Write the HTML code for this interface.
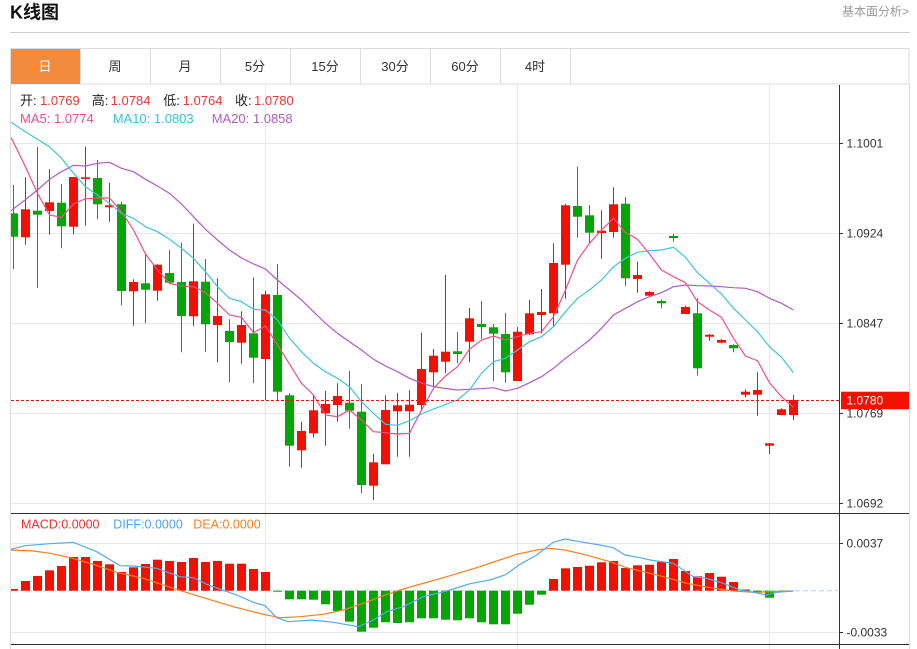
<!DOCTYPE html>
<html>
<head>
<meta charset="utf-8">
<style>
html,body{margin:0;padding:0;background:#fff;width:917px;height:649px;overflow:hidden;}
svg{position:absolute;left:0;top:0;}
text{font-family:"Liberation Sans","Noto Sans CJK SC",sans-serif;}
</style>
</head>
<body>
<svg width="917" height="649" viewBox="0 0 917 649" xmlns="http://www.w3.org/2000/svg">
<defs>
<clipPath id="cm"><rect x="11" y="85" width="828" height="428"/></clipPath>
<clipPath id="cd"><rect x="11" y="514" width="828" height="130"/></clipPath>
</defs>

<text x="10" y="12.5" font-size="18" font-weight="bold" fill="#111" dominant-baseline="central">K线图</text>
<text x="909" y="11.7" font-size="12" fill="#999" text-anchor="end" dominant-baseline="central">基本面分析&gt;</text>
<rect x="10" y="32" width="900" height="1" fill="#cfcfcf"/>

<rect x="10.5" y="48.5" width="898.5" height="35.5" fill="#fff" stroke="#dcdcdc"/>
<rect x="11" y="49" width="69.5" height="35" fill="#f28b3d"/>
<g stroke="#dcdcdc">
<line x1="80.5" y1="49" x2="80.5" y2="84"/>
<line x1="150.5" y1="49" x2="150.5" y2="84"/>
<line x1="220.5" y1="49" x2="220.5" y2="84"/>
<line x1="290.5" y1="49" x2="290.5" y2="84"/>
<line x1="360.5" y1="49" x2="360.5" y2="84"/>
<line x1="430.5" y1="49" x2="430.5" y2="84"/>
<line x1="500.5" y1="49" x2="500.5" y2="84"/>
<line x1="570.5" y1="49" x2="570.5" y2="84"/>
</g>
<g font-size="13" fill="#333" text-anchor="middle" dominant-baseline="central">
<text x="45" y="66.7" fill="#fff">日</text>
<text x="115" y="66.7">周</text>
<text x="185" y="66.7">月</text>
<text x="255" y="66.7">5分</text>
<text x="325" y="66.7">15分</text>
<text x="395" y="66.7">30分</text>
<text x="465" y="66.7">60分</text>
<text x="535" y="66.7">4时</text>
</g>

<line x1="10.5" y1="84" x2="10.5" y2="649" stroke="#dcdcdc"/>
<line x1="909.5" y1="84" x2="909.5" y2="649" stroke="#dcdcdc"/>

<g stroke="#e3e9ef" stroke-width="1">
<line x1="265.5" y1="85" x2="265.5" y2="649"/>
<line x1="517.5" y1="85" x2="517.5" y2="649"/>
<line x1="769.5" y1="85" x2="769.5" y2="649"/>
<line x1="11" y1="143.5" x2="839" y2="143.5"/>
<line x1="11" y1="233.5" x2="839" y2="233.5"/>
<line x1="11" y1="323.5" x2="839" y2="323.5"/>
<line x1="11" y1="413.5" x2="839" y2="413.5"/>
<line x1="11" y1="503.5" x2="839" y2="503.5"/>
<line x1="11" y1="543.5" x2="839" y2="543.5"/>
<line x1="11" y1="632.5" x2="839" y2="632.5"/>
</g>

<g font-size="13" dominant-baseline="central">
<text x="20" y="100.7" fill="#222">开:</text>
<text x="40" y="100.7" fill="#f03535">1.0769</text>
<text x="91.7" y="100.7" fill="#222">高:</text>
<text x="110.7" y="100.7" fill="#f03535">1.0784</text>
<text x="163.3" y="100.7" fill="#222">低:</text>
<text x="182.7" y="100.7" fill="#f03535">1.0764</text>
<text x="235" y="100.7" fill="#222">收:</text>
<text x="254" y="100.7" fill="#f03535">1.0780</text>
<text x="20" y="118.7" fill="#ee4f82">MA5: 1.0774</text>
<text x="112.7" y="118.7" fill="#33c3d8">MA10: 1.0803</text>
<text x="211.7" y="118.7" fill="#b05cc5">MA20: 1.0858</text>
</g>

<g clip-path="url(#cm)">
<path fill="none" stroke="#f21100" stroke-width="1" d="M25.5 177.3V244.7M49.5 169.3V234.7M73.5 177V234.3M85.5 146.7V225.7M109.5 182.7V222M133.5 279.3V325.7M157.5 264.3V300.7M193.5 223.7V326M217.5 278.3V362.3M241.5 311.3V363.7M265.5 290.7V400M301.5 421.7V467.7M313.5 395V437.3M325.5 391V445.7M337.5 383.3V421.7M373.5 454V500M385.5 395.3V464.3M397.5 392.7V456.7M409.5 390.3V456.7M421.5 332.7V410M433.5 349V386.7M445.5 275V373.3M469.5 308V362.3M517.5 327.3V381M529.5 300V335M541.5 289V333.3M553.5 243.3V326.7M565.5 203.7V298.7M601.5 210.3V258.7M613.5 187.3V237.7M637.5 261.7V292.7M649.5 291V296.7M685.5 305.7V314M709.5 334V340.7M721.5 339.3V343.3M745.5 389.3V397.3M757.5 372.3V415.7M769.5 442.7V454M781.5 408.3V415.3M793.5 395V420"/>
<path fill="none" stroke="#04a504" stroke-width="1" d="M13.5 185V269.3M37.5 146.7V287.7M61.5 184V248.3M97.5 160V219.3M121.5 201.7V305.3M145.5 253.3V323.3M169.5 250V284.3M181.5 242.7V352.3M205.5 259V351.7M229.5 319.3V382.3M253.5 277.3V383.3M277.5 264V400M289.5 393.3V466.7M349.5 371V428.7M361.5 384V493.3M457.5 332V363.3M481.5 301V339M493.5 324V381M505.5 312.7V382.7M577.5 166.7V237.7M589.5 205V243.3M625.5 197V286M661.5 299.3V308.3M673.5 234V241.7M697.5 298.3V375.7M733.5 344.3V352.3"/>
<g fill="#f21100">
<rect x="21" y="209.3" width="9" height="28"/>
<rect x="45" y="202.3" width="9" height="8.7"/>
<rect x="69" y="177" width="9" height="49.7"/>
<rect x="81" y="177.3" width="9" height="1.6"/>
<rect x="105" y="205.3" width="9" height="2"/>
<rect x="129" y="282" width="9" height="9.3"/>
<rect x="153" y="264.7" width="9" height="26"/>
<rect x="189" y="281.3" width="9" height="35"/>
<rect x="213" y="316" width="9" height="9"/>
<rect x="237" y="325" width="9" height="17.7"/>
<rect x="261" y="294.3" width="9" height="64.7"/>
<rect x="297" y="431" width="9" height="19.3"/>
<rect x="309" y="410.3" width="9" height="23"/>
<rect x="321" y="404" width="9" height="9.3"/>
<rect x="333" y="396" width="9" height="9"/>
<rect x="369" y="462.3" width="9" height="23.4"/>
<rect x="381" y="410" width="9" height="54.3"/>
<rect x="393" y="405.3" width="9" height="6"/>
<rect x="405" y="404.7" width="9" height="6.6"/>
<rect x="417" y="369" width="9" height="36"/>
<rect x="429" y="355.7" width="9" height="16.6"/>
<rect x="441" y="351.7" width="9" height="10"/>
<rect x="465" y="318.3" width="9" height="23.4"/>
<rect x="513" y="331.7" width="9" height="49.3"/>
<rect x="525" y="313.3" width="9" height="21"/>
<rect x="537" y="312" width="9" height="3"/>
<rect x="549" y="263" width="9" height="50.3"/>
<rect x="561" y="205.3" width="9" height="59.4"/>
<rect x="597" y="230.7" width="9" height="2.3"/>
<rect x="609" y="204.3" width="9" height="27.7"/>
<rect x="633" y="275" width="9" height="4"/>
<rect x="645" y="292" width="9" height="3.7"/>
<rect x="681" y="307" width="9" height="7"/>
<rect x="705" y="334.7" width="9" height="2"/>
<rect x="717" y="340" width="9" height="2.7"/>
<rect x="741" y="391.7" width="9" height="3"/>
<rect x="753" y="390" width="9" height="4.7"/>
<rect x="765" y="443.3" width="9" height="2.4"/>
<rect x="777" y="409.3" width="9" height="5.7"/>
<rect x="789" y="400" width="9" height="15"/>
</g>
<g fill="#04a504">
<rect x="9" y="213.3" width="9" height="23.4"/>
<rect x="33" y="210.7" width="9" height="4"/>
<rect x="57" y="202.7" width="9" height="23.6"/>
<rect x="93" y="178" width="9" height="26.3"/>
<rect x="117" y="204.3" width="9" height="86.7"/>
<rect x="141" y="283.3" width="9" height="6.4"/>
<rect x="165" y="273" width="9" height="9.7"/>
<rect x="177" y="282" width="9" height="34"/>
<rect x="201" y="281.7" width="9" height="42.6"/>
<rect x="225" y="331" width="9" height="11"/>
<rect x="249" y="333.3" width="9" height="24.4"/>
<rect x="273" y="295" width="9" height="96.7"/>
<rect x="285" y="395.3" width="9" height="50.4"/>
<rect x="345" y="402.7" width="9" height="8"/>
<rect x="357" y="411.7" width="9" height="73.3"/>
<rect x="453" y="351.3" width="9" height="2.7"/>
<rect x="477" y="324" width="9" height="3"/>
<rect x="489" y="327.3" width="9" height="6.4"/>
<rect x="501" y="334" width="9" height="38.3"/>
<rect x="573" y="206" width="9" height="10.7"/>
<rect x="585" y="215.3" width="9" height="17.4"/>
<rect x="621" y="203.7" width="9" height="74.6"/>
<rect x="657" y="301" width="9" height="2.3"/>
<rect x="669" y="236" width="9" height="2"/>
<rect x="693" y="313.3" width="9" height="55"/>
<rect x="729" y="345" width="9" height="3.3"/>
</g>

<polyline fill="none" stroke="#b259c9" stroke-width="1.2" points="11,210.7 25,200 37.5,190 49.5,179.3 61.5,171.7 73.5,165.3 85.5,166 97.5,163.3 109.5,162.3 121.5,168.3 133.5,171.7 145.5,179.3 157.5,186 169.5,193.3 181.5,204 193.5,216.7 205.5,229.3 217.5,240 229.5,250 241.5,258 253.5,264 265.5,269 277.5,280 289.5,290 301.5,300 313.5,311.7 325.5,323.3 337.5,333.3 349.5,341.7 361.5,350 373.5,359.3 385.5,366 397.5,371.7 409.5,378.3 421.5,383 433.5,386.7 445.5,388.5 457.5,390 469.5,389.3 481.5,388.7 493.5,387.7 505.5,391 517.5,388.3 529.5,382.7 541.5,376.7 553.5,368.3 565.5,358.3 577.5,349.3 589.5,340 601.5,328.3 613.5,315 625.5,308.3 637.5,301.7 649.5,296.7 661.5,292.7 673.5,286.7 685.5,285 697.5,285.7 709.5,286 721.5,286.7 733.5,287.7 745.5,288.3 757.5,291.7 769.5,298.3 781.5,303.3 793.5,310"/>
<polyline fill="none" stroke="#3ec4dc" stroke-width="1.2" points="11,122 21,129 49.5,146.7 61.5,158.3 73.5,173.3 85.5,186.7 97.5,195 109.5,203.3 121.5,213.3 133.5,218.3 145.5,226.7 157.5,231.7 169.5,239.3 181.5,248.3 193.5,258.3 205.5,271.7 217.5,286.7 229.5,298.3 241.5,301.7 253.5,309.3 265.5,310 277.5,320 289.5,338.3 301.5,351.7 313.5,363.3 325.5,371.7 337.5,378.3 349.5,386.7 361.5,401.7 373.5,413.3 385.5,424.3 397.5,425.3 409.5,420.7 421.5,414 433.5,409 445.5,404.5 457.5,400 469.5,390 481.5,373.3 493.5,361.7 505.5,358.3 517.5,350 529.5,341.7 541.5,336.7 553.5,326.7 565.5,311.7 577.5,298.3 589.5,290 601.5,280 613.5,266.7 625.5,258.3 637.5,252.3 649.5,250.7 661.5,250 673.5,247.3 685.5,257.3 697.5,272.7 709.5,283.3 721.5,294 733.5,308.3 745.5,320 757.5,331.7 769.5,346.7 781.5,357.3 793.5,372.7"/>
<polyline fill="none" stroke="#ef4f85" stroke-width="1.2" points="11,137.3 25.5,166.7 37.5,193.3 49.5,215 61.5,217.3 73.5,204 85.5,198.7 97.5,198 109.5,198 121.5,211.7 133.5,230 145.5,254 157.5,270 169.5,283.3 181.5,286 193.5,286.7 205.5,292.5 217.5,303.3 229.5,315 241.5,317.3 253.5,332.7 265.5,326 277.5,345 289.5,364 301.5,383.3 313.5,395 325.5,415 337.5,416.7 349.5,410 361.5,420 373.5,431.7 385.5,432.7 397.5,434 409.5,433.3 421.5,410 433.5,388.3 445.5,376 457.5,366.7 469.5,349.3 481.5,340 493.5,336 505.5,340 517.5,336.7 529.5,333.3 541.5,331.7 553.5,316.7 565.5,290 577.5,260 589.5,243.3 601.5,230 613.5,218.3 625.5,232.7 637.5,239.3 649.5,254 661.5,270 673.5,276.7 685.5,282.7 697.5,301.7 709.5,310 721.5,317.3 733.5,338.3 745.5,356 757.5,360.7 769.5,382.7 781.5,396.7 793.5,407.3"/>
</g>

<line x1="11" y1="400.5" x2="839" y2="400.5" stroke="#f21100" stroke-width="1" stroke-dasharray="3,2"/>

<g clip-path="url(#cd)">
<line x1="11" y1="590.7" x2="838" y2="590.7" stroke="#a6d6f2" stroke-width="1" stroke-dasharray="5,3"/>
<g fill="#f21100">
<rect x="9" y="589" width="9" height="1.7"/>
<rect x="21" y="581" width="9" height="9.7"/>
<rect x="33" y="576" width="9" height="14.7"/>
<rect x="45" y="570.3" width="9" height="20.4"/>
<rect x="57" y="566" width="9" height="24.7"/>
<rect x="69" y="557" width="9" height="33.7"/>
<rect x="81" y="557" width="9" height="33.7"/>
<rect x="93" y="561" width="9" height="29.7"/>
<rect x="105" y="564.3" width="9" height="26.4"/>
<rect x="117" y="572" width="9" height="18.7"/>
<rect x="129" y="567.3" width="9" height="23.4"/>
<rect x="141" y="564" width="9" height="26.7"/>
<rect x="153" y="559.7" width="9" height="31"/>
<rect x="165" y="561" width="9" height="29.7"/>
<rect x="177" y="562" width="9" height="28.7"/>
<rect x="189" y="558" width="9" height="32.7"/>
<rect x="201" y="562" width="9" height="28.7"/>
<rect x="213" y="561" width="9" height="29.7"/>
<rect x="225" y="563.7" width="9" height="27"/>
<rect x="237" y="563.7" width="9" height="27"/>
<rect x="249" y="569" width="9" height="21.7"/>
<rect x="261" y="572" width="9" height="18.7"/>
<rect x="549" y="579" width="9" height="11.7"/>
<rect x="561" y="568.3" width="9" height="22.4"/>
<rect x="573" y="567" width="9" height="23.7"/>
<rect x="585" y="565.7" width="9" height="25"/>
<rect x="597" y="562.3" width="9" height="28.4"/>
<rect x="609" y="561" width="9" height="29.7"/>
<rect x="621" y="568" width="9" height="22.7"/>
<rect x="633" y="565.3" width="9" height="25.4"/>
<rect x="645" y="564.7" width="9" height="26"/>
<rect x="657" y="562" width="9" height="28.7"/>
<rect x="669" y="559" width="9" height="31.7"/>
<rect x="681" y="571" width="9" height="19.7"/>
<rect x="693" y="576.3" width="9" height="14.4"/>
<rect x="705" y="573" width="9" height="17.7"/>
<rect x="717" y="576.7" width="9" height="14"/>
<rect x="729" y="582" width="9" height="8.7"/>
<rect x="741" y="589.5" width="9" height="1.2"/>
</g>
<g fill="#04a504">
<rect x="273" y="590.7" width="9" height="1"/>
<rect x="285" y="590.7" width="9" height="8.6"/>
<rect x="297" y="590.7" width="9" height="8.6"/>
<rect x="309" y="590.7" width="9" height="9"/>
<rect x="321" y="590.7" width="9" height="13.6"/>
<rect x="333" y="590.7" width="9" height="20.3"/>
<rect x="345" y="590.7" width="9" height="31"/>
<rect x="357" y="590.7" width="9" height="41"/>
<rect x="369" y="590.7" width="9" height="37"/>
<rect x="381" y="590.7" width="9" height="31.6"/>
<rect x="393" y="590.7" width="9" height="32.3"/>
<rect x="405" y="590.7" width="9" height="31.6"/>
<rect x="417" y="590.7" width="9" height="27.6"/>
<rect x="429" y="590.7" width="9" height="27.6"/>
<rect x="441" y="590.7" width="9" height="29"/>
<rect x="453" y="590.7" width="9" height="29.6"/>
<rect x="465" y="590.7" width="9" height="27.6"/>
<rect x="477" y="590.7" width="9" height="31.6"/>
<rect x="489" y="590.7" width="9" height="33.6"/>
<rect x="501" y="590.7" width="9" height="33.6"/>
<rect x="513" y="590.7" width="9" height="23"/>
<rect x="525" y="590.7" width="9" height="14"/>
<rect x="537" y="590.7" width="9" height="4"/>
<rect x="753" y="590.7" width="9" height="2"/>
<rect x="765" y="590.7" width="9" height="7"/>
<rect x="777" y="590.7" width="9" height="1"/>
</g>
<polyline fill="none" stroke="#f5801e" stroke-width="1.2" points="11,550 33.3,551 50,553.3 70,557.7 93.3,564.3 116.7,572.3 143.3,578.3 173.3,588.3 200,596.7 233.3,606.7 263.3,614.3 280,617.7 300,616.7 323.3,614.3 343.3,610 363.3,603.3 383.3,595.7 400,590 410,587 443.3,577.7 476.7,567.7 496.7,561 516.7,554.3 536.7,550 550,548.3 565,550 583.3,554.3 610,561.7 626.7,567.7 643.3,571.7 663.3,576.7 686.7,583.3 710,587.7 733.3,591 753.3,592.3 793.3,591"/>
<polyline fill="none" stroke="#55aaee" stroke-width="1.2" points="11,549.3 25,545.7 50,543.7 73.3,542.3 96.7,551.7 120,565.7 133.3,566 156.7,568.3 180,576.7 193.3,577.7 206.7,584.3 236.7,595 253.3,602.3 265,605.7 276.7,617.7 288.3,621.7 311.7,620 333.3,622.3 358.3,626.7 373.3,620 386.7,611.7 403.3,606.7 410,603.3 423.3,596.7 446.7,591 470,583.7 490,580 505,575 520,564.3 536.7,555 553.3,542.3 565,539 583.3,542.3 600,545 613.3,547.7 625,555 640,557.7 650,560 673.3,563.3 693.3,576.7 706.7,578.3 723.3,583.3 740,590 753.3,592.3 766.7,595 776.7,592.3 793.3,591"/>
</g>
<g font-size="12.5" dominant-baseline="central">
<text x="21" y="524.3" fill="#f03030">MACD:0.0000</text>
<text x="113.3" y="524.3" fill="#4aa3f0">DIFF:0.0000</text>
<text x="193.3" y="524.3" fill="#f5801e">DEA:0.0000</text>
</g>

<line x1="11" y1="513.5" x2="909" y2="513.5" stroke="#333" stroke-width="1"/>
<line x1="11" y1="644.5" x2="909" y2="644.5" stroke="#333" stroke-width="1"/>
<line x1="839.5" y1="85" x2="839.5" y2="649" stroke="#333" stroke-width="1"/>

<g stroke="#333" stroke-width="1">
<line x1="839" y1="143.5" x2="843" y2="143.5"/>
<line x1="839" y1="233.5" x2="843" y2="233.5"/>
<line x1="839" y1="323.5" x2="843" y2="323.5"/>
<line x1="839" y1="413.5" x2="843" y2="413.5"/>
<line x1="839" y1="503.5" x2="843" y2="503.5"/>
<line x1="839" y1="543.5" x2="843" y2="543.5"/>
<line x1="839" y1="632.5" x2="843" y2="632.5"/>
</g>
<g font-size="12" fill="#333" dominant-baseline="central">
<text x="846.5" y="143.3">1.1001</text>
<text x="846.5" y="233.3">1.0924</text>
<text x="846.5" y="323.3">1.0847</text>
<text x="846.5" y="413.3">1.0769</text>
<text x="846.5" y="503.3">1.0692</text>
<text x="846.5" y="543.3">0.0037</text>
<text x="846.5" y="632.7">-0.0033</text>
</g>
<rect x="841" y="391.7" width="68" height="17.6" fill="#f21100"/>
<text x="846.5" y="400.5" font-size="12" fill="#fff" dominant-baseline="central">1.0780</text>
</svg>
</body>
</html>
